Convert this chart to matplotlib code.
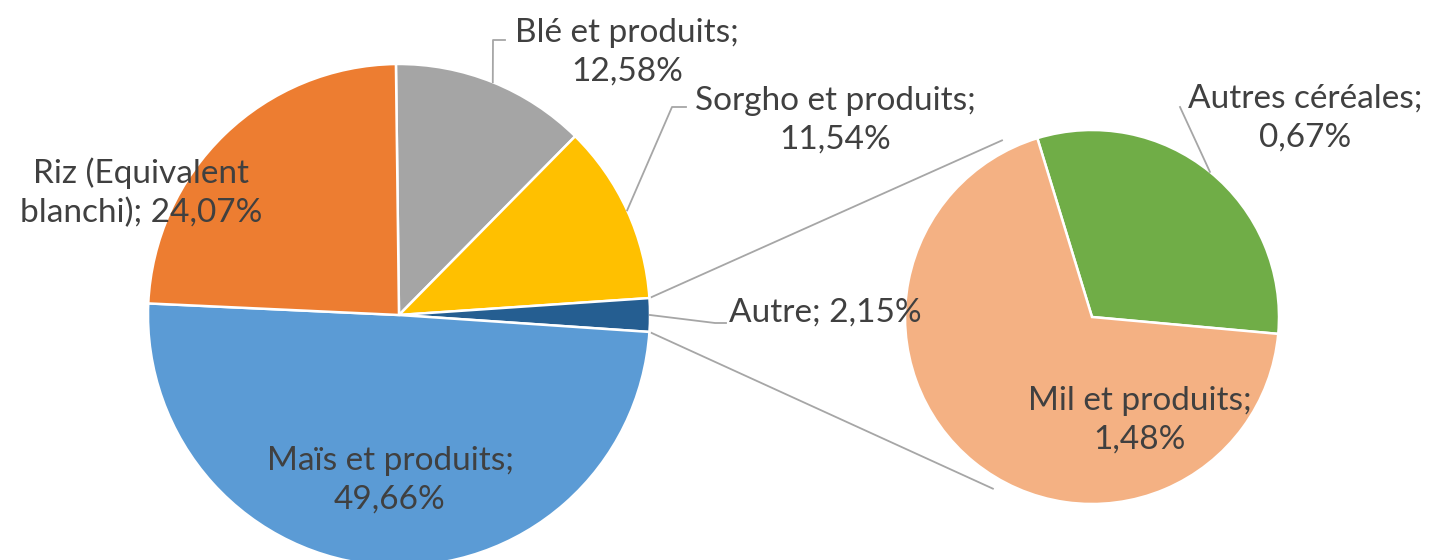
import numpy as np
import matplotlib.pyplot as plt

# Données (parts en %)
categories = ["Blé et produits", "Sorgho et produits", "Autre", "Maïs et produits", "Riz (Equivalent\nblanchi)"]
shares = [12.58, 11.54, 2.15, 49.66, 24.07]
colors = ["#A5A5A5", "#FFC000", "#255E91", "#5B9BD5", "#ED7D31"]
seps = ["\n", "\n", " ", "\n", " "]

sub_categories = ["Autres céréales", "Mil et produits"]
sub_shares = [0.67, 1.48]
sub_colors = ["#70AD47", "#F4B183"]
sub_seps = ["\n", "\n"]

H = 560
def py(y):
    # coordonnées pixel (haut->bas) vers coordonnées du graphique
    return H - y

def fmt(name, val, sep):
    return f"{name};{sep}{val:.2f}%".replace(".", ",")

plt.rcParams['font.family'] = ['Lato', 'DejaVu Sans']
txt_color = "#404040"
line_color = "#A6A6A6"

fig = plt.figure(figsize=(14.33, 5.6), dpi=100)
ax = fig.add_axes([0, 0, 1, 1])

# Camembert principal : la part "Autre" centrée à 3 heures
c1 = (399, py(315))
r1 = 251
start1 = 360 * (shares[0] + shares[1] + shares[2] / 2) / 100
w1, _ = ax.pie(shares, colors=colors, startangle=start1, counterclock=False,
               center=c1, radius=r1, frame=True,
               wedgeprops=dict(edgecolor="white", linewidth=1.8))

# Camembert secondaire
c2 = (1092, py(317))
r2 = 187
w2, _ = ax.pie(sub_shares, colors=sub_colors, startangle=107, counterclock=False,
               center=c2, radius=r2, frame=True,
               wedgeprops=dict(edgecolor="white", linewidth=1.8))

# Lignes de liaison entre les deux camemberts
autre = w1[2]
for ang1, ang2 in [(autre.theta2, 117), (autre.theta1, -120)]:
    p1 = (c1[0] + r1 * np.cos(np.radians(ang1)), c1[1] + r1 * np.sin(np.radians(ang1)))
    p2 = (c2[0] + 1.06 * r2 * np.cos(np.radians(ang2)), c2[1] + 1.06 * r2 * np.sin(np.radians(ang2)))
    ax.plot([p1[0], p2[0]], [p1[1], p2[1]], color=line_color, lw=1.3, zorder=0)

def mid_point(w, center, r):
    a = np.radians((w.theta1 + w.theta2) / 2)
    return center[0] + r * np.cos(a), center[1] + r * np.sin(a)

# Étiquettes
fs = 24
main_pos = [(627, 52), (835, 120), (825, 313), (390, 480), (141, 193)]
main_leaders = [[(493, 40), (505, 40)], [(672, 107), (686, 107)], [(715, 323), (726, 323)], None, None]
for i, (name, val, sep) in enumerate(zip(categories, shares, seps)):
    x, y = main_pos[i]
    ax.text(x, py(y), fmt(name, val, sep), ha="center", va="center", fontsize=fs,
            color=txt_color, linespacing=1.35)
    if main_leaders[i] is not None:
        sx, sy = mid_point(w1[i], c1, r1)
        pts = [(sx, sy)] + [(px, py(pyy)) for px, pyy in main_leaders[i]]
        ax.plot([p[0] for p in pts], [p[1] for p in pts], color=line_color, lw=1.3)

sub_pos = [(1305, 118), (1140, 420)]
sub_leaders = [[(1180, 107)], None]
for i, (name, val, sep) in enumerate(zip(sub_categories, sub_shares, sub_seps)):
    x, y = sub_pos[i]
    ax.text(x, py(y), fmt(name, val, sep), ha="center", va="center", fontsize=fs,
            color=txt_color, linespacing=1.35)
    if sub_leaders[i] is not None:
        sx, sy = mid_point(w2[i], c2, r2)
        pts = [(sx, sy)] + [(px, py(pyy)) for px, pyy in sub_leaders[i]]
        ax.plot([p[0] for p in pts], [p[1] for p in pts], color=line_color, lw=1.3)

ax.set_xlim(0, 1433)
ax.set_ylim(0, H)
ax.set_aspect("equal")
ax.axis("off")

fig.savefig("out.png", dpi=100)
